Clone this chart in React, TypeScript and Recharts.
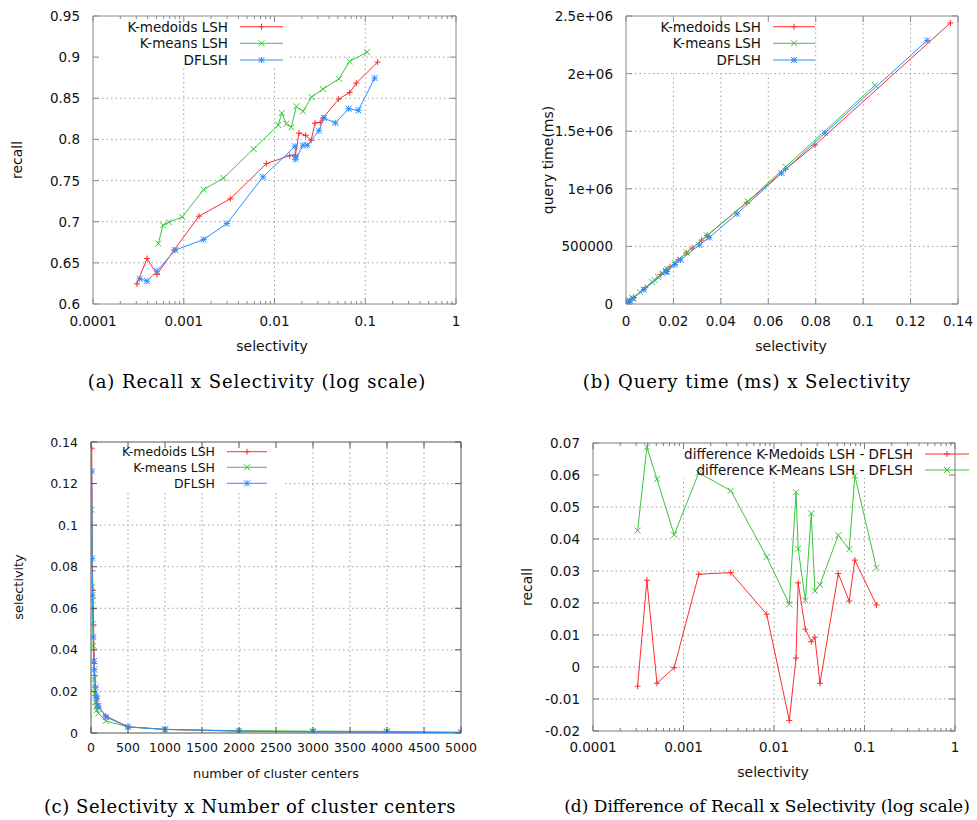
import React from "react";
import {
  ScatterChart,
  Scatter,
  XAxis,
  YAxis,
  ReferenceLine,
  ReferenceArea,
} from "recharts";

// ---- values ----

// (a)/(b): selectivity, recall and query time per method
const medoidsSel = [0.000305, 0.000394, 0.000507, 0.000781, 0.00147, 0.00326, 0.00813, 0.0147, 0.017, 0.0186, 0.022, 0.0254, 0.0279, 0.0319, 0.0342, 0.0509, 0.0673, 0.0797, 0.1368];
const medoidsRecall = [0.6245, 0.6553, 0.6359, 0.6654, 0.7067, 0.7278, 0.7706, 0.7803, 0.7811, 0.8078, 0.805, 0.7989, 0.8199, 0.8207, 0.826, 0.849, 0.857, 0.8685, 0.894];
const medoidsQueryMs = [5300, 6900, 8800, 13600, 25600, 56700, 141000, 256000, 296000, 324000, 383000, 442000, 485000, 555000, 595000, 880000, 1170000, 1380000, 2440000];

const meansSel = [0.000525, 0.000591, 0.000687, 0.000963, 0.001656, 0.00275, 0.00588, 0.01101, 0.012, 0.0135, 0.0153, 0.0174, 0.0206, 0.0256, 0.0342, 0.0513, 0.0673, 0.105];
const meansRecall = [0.6735, 0.6957, 0.6994, 0.7058, 0.739, 0.7532, 0.7884, 0.8175, 0.8321, 0.8191, 0.8147, 0.8402, 0.8341, 0.8515, 0.8612, 0.8737, 0.8948, 0.9061];
const meansQueryMs = [9100, 10300, 12000, 16800, 28900, 48000, 102000, 192000, 209000, 235000, 266000, 303000, 358000, 445000, 595000, 890000, 1190000, 1900000];

const dflshSel = [0.000327, 0.000394, 0.000507, 0.000802, 0.001656, 0.00299, 0.00748, 0.01682, 0.017, 0.0171, 0.0206, 0.023, 0.0309, 0.0351, 0.0468, 0.0656, 0.0839, 0.127];
const dflshRecall = [0.6307, 0.6278, 0.64, 0.6654, 0.6784, 0.6978, 0.7544, 0.7917, 0.779, 0.776, 0.7929, 0.7929, 0.8106, 0.826, 0.82, 0.8373, 0.8353, 0.8745];
const dflshQueryMs = [5400, 6500, 8400, 13300, 27500, 49600, 124000, 279000, 282000, 284000, 342000, 382000, 513000, 577000, 783000, 1136000, 1484000, 2287000];

// (c): selectivity against number of cluster centers
const medoidsCenters = [10, 20, 25, 30, 35, 45, 50, 60, 70, 80, 100, 200, 500, 1000, 2000, 3000, 4000, 5000];
const medoidsCenterSel = [0.137, 0.078, 0.0686, 0.0598, 0.052, 0.0334, 0.0277, 0.0221, 0.0173, 0.0141, 0.0125, 0.0082, 0.003, 0.0017, 0.0009, 0.0006, 0.0005, 0.0003];
const meansCenters = [10, 15, 20, 25, 30, 40, 50, 60, 70, 80, 100, 200, 500, 1000, 2000, 3000, 4000, 5000];
const meansCenterSel = [0.1075, 0.0703, 0.0638, 0.0526, 0.042, 0.0257, 0.019, 0.0149, 0.0125, 0.011, 0.0095, 0.0058, 0.0029, 0.0017, 0.0011, 0.0009, 0.0008, 0.0003];
const dflshCenters = [10, 15, 20, 30, 40, 45, 60, 70, 80, 100, 200, 500, 1000, 2000, 3000, 4000, 5000];
const dflshCenterSel = [0.126, 0.0839, 0.0662, 0.0462, 0.0346, 0.0305, 0.0221, 0.0181, 0.0165, 0.013, 0.0077, 0.0029, 0.0018, 0.0009, 0.0005, 0.0004, 0.0001];

// (d): recall differences
const diffSel = [0.000311, 0.000394, 0.000509, 0.000789, 0.001475, 0.00333, 0.0083, 0.01476, 0.0175, 0.0185, 0.0222, 0.0258, 0.0283, 0.0322, 0.0513, 0.0678, 0.0782, 0.1355];
const diffMedoids = [-0.006, 0.0271, -0.0051, -0.0002, 0.029, 0.0295, 0.0165, -0.0167, 0.0028, 0.0263, 0.0118, 0.0079, 0.0093, -0.0051, 0.0292, 0.0206, 0.0334, 0.0194];
const diffMeans = [0.0426, 0.0687, 0.0587, 0.0413, 0.0607, 0.0551, 0.0344, 0.0196, 0.0546, 0.037, 0.0208, 0.048, 0.0238, 0.0257, 0.0412, 0.0368, 0.0598, 0.031];

// ticks
const logTicks = [0.0001, 0.001, 0.01, 0.1, 1];
const recallTicks = [0.6, 0.65, 0.7, 0.75, 0.8, 0.85, 0.9, 0.95];
const selTicks = [0, 0.02, 0.04, 0.06, 0.08, 0.1, 0.12, 0.14];
const queryTicks = [0, 500000, 1000000, 1500000, 2000000, 2500000];
const queryLabels = ["0", "500000", "1e+06", "1.5e+06", "2e+06", "2.5e+06"];
const centerTicks = [0, 500, 1000, 1500, 2000, 2500, 3000, 3500, 4000, 4500, 5000];
const diffTicks = [-0.02, -0.01, 0, 0.01, 0.02, 0.03, 0.04, 0.05, 0.06, 0.07];

const RED = "#ff2a2a";
const GREEN = "#3cc43c";
const BLUE = "#2b8cff";
const GRID = "#a0a0a0";
const SANS = '"DejaVu Sans", sans-serif';

const pts = (xs: number[], ys: number[]) => xs.map((x, i) => ({ x, y: ys[i] }));

// minor log ticks 2..9 per decade
const logMinor: number[] = [];
[0.0001, 0.001, 0.01, 0.1].forEach((d) => {
  for (let k = 2; k <= 9; k++) logMinor.push(+(d * k).toPrecision(3));
});
const isDecade = (v: number) => Math.abs(Math.log10(v) - Math.round(Math.log10(v))) < 1e-9;

type Kind = "plus" | "cross" | "star";

function Marker({ kind, cx, cy, color }: { kind: Kind; cx: number; cy: number; color: string }) {
  const s = 3;
  let d = "";
  if (kind !== "cross") d += `M${cx - s},${cy}H${cx + s}M${cx},${cy - s}V${cy + s}`;
  if (kind !== "plus") d += `M${cx - s},${cy - s}L${cx + s},${cy + s}M${cx - s},${cy + s}L${cx + s},${cy - s}`;
  return <path d={d} stroke={color} strokeWidth={1} fill="none" />;
}

type Series = { name: string; color: string; marker: Kind; data: { x: number; y: number }[] };
type Seg = [number, number, number, number];

interface PanelCfg {
  box: { left: number; top: number; width: number; height: number };
  plot: { left: number; top: number; width: number; height: number };
  xLog: boolean;
  xDomain: [number, number];
  yDomain: [number, number];
  xTicks: number[];
  xMajor: (v: number) => boolean;
  xFmt: (v: number) => string;
  yTicks: number[];
  yFmt: (v: number) => string;
  fontSize: number;
  xLabelDy: number;
  frame: string;
  grid: Seg[];
  series: Series[];
}

const AXIS_W = 40;
const AXIS_H = 20;

function Panel({ cfg }: { cfg: PanelCfg }) {
  const { box, plot } = cfg;
  const bottom = plot.top + plot.height;
  const right = plot.left + plot.width;
  const margin = {
    top: plot.top,
    left: plot.left - AXIS_W,
    right: box.width - right,
    bottom: box.height - bottom - AXIS_H,
  };

  const xTick = (p: any) => {
    const x = p.x;
    const v = p.payload.value;
    const major = cfg.xMajor(v);
    const len = major ? 6 : 3;
    return (
      <g>
        <line x1={x} x2={x} y1={bottom} y2={bottom - len} stroke={cfg.frame} />
        <line x1={x} x2={x} y1={plot.top} y2={plot.top + len} stroke={cfg.frame} />
        {major && (
          <text x={x} y={bottom + cfg.xLabelDy} textAnchor="middle" dominantBaseline="central"
            fontSize={cfg.fontSize} fontFamily={SANS} fill="#111">
            {cfg.xFmt(v)}
          </text>
        )}
      </g>
    );
  };

  const yTick = (p: any) => {
    const y = p.y;
    const v = p.payload.value;
    return (
      <g>
        <line x1={plot.left} x2={plot.left + 6} y1={y} y2={y} stroke={cfg.frame} />
        <line x1={right - 6} x2={right} y1={y} y2={y} stroke={cfg.frame} />
        <text x={plot.left - 13} y={y} textAnchor="end" dominantBaseline="central"
          fontSize={cfg.fontSize} fontFamily={SANS} fill="#111">
          {cfg.yFmt(v)}
        </text>
      </g>
    );
  };

  return (
    <div style={{ position: "absolute", left: cfg.box.left, top: cfg.box.top }}>
      <ScatterChart width={box.width} height={box.height} margin={margin}>
        <XAxis type="number" dataKey="x" scale={cfg.xLog ? "log" : "linear"} domain={cfg.xDomain}
          ticks={cfg.xTicks} interval={0} tick={xTick} tickLine={false} axisLine={false}
          height={AXIS_H} allowDataOverflow />
        <YAxis type="number" dataKey="y" domain={cfg.yDomain} ticks={cfg.yTicks} interval={0}
          tick={yTick} tickLine={false} axisLine={false} width={AXIS_W} allowDataOverflow />
        {cfg.grid.map(([x1, y1, x2, y2], i) => (
          <ReferenceLine key={i} segment={[{ x: x1, y: y1 }, { x: x2, y: y2 }]}
            stroke={GRID} strokeDasharray="1.5 3" strokeWidth={1} />
        ))}
        <ReferenceArea x1={cfg.xDomain[0]} x2={cfg.xDomain[1]} y1={cfg.yDomain[0]} y2={cfg.yDomain[1]}
          fill="none" stroke={cfg.frame} strokeWidth={1} />
        {cfg.series.map((s) => (
          <Scatter key={s.name} name={s.name} data={s.data} isAnimationActive={false}
            line={{ stroke: s.color, strokeWidth: 1 }} lineJointType="linear"
            shape={(p: any) => <Marker kind={s.marker} cx={p.cx} cy={p.cy} color={s.color} />} />
        ))}
      </ScatterChart>
    </div>
  );
}

const fmt = (v: number) => String(v);
const lin = () => true;

const vSegs = (xs: number[], y1: number, y2: number): Seg[] => xs.map((x) => [x, y1, x, y2]);
const hSegs = (ys: number[], x1: number, x2: number): Seg[] => ys.map((y) => [x1, y, x2, y]);

const panelA: PanelCfg = {
  box: { left: 0, top: 0, width: 488, height: 400 },
  plot: { left: 93, top: 16, width: 363, height: 288 },
  xLog: true,
  xDomain: [0.0001, 1],
  yDomain: [0.6, 0.95],
  xTicks: [...logTicks, ...logMinor],
  xMajor: isDecade,
  xFmt: fmt,
  yTicks: recallTicks,
  yFmt: fmt,
  fontSize: 13.5,
  xLabelDy: 17,
  frame: "#8a8a8a",
  grid: [
    ...vSegs([0.001, 0.01], 0.6, 0.8877),
    ...vSegs([0.1], 0.6, 0.95),
    ...hSegs([0.65, 0.7, 0.75, 0.8, 0.85], 0.0001, 1),
    ...hSegs([0.9], 0.0148, 1),
  ],
  series: [
    { name: "K-medoids LSH", color: RED, marker: "plus", data: pts(medoidsSel, medoidsRecall) },
    { name: "K-means LSH", color: GREEN, marker: "cross", data: pts(meansSel, meansRecall) },
    { name: "DFLSH", color: BLUE, marker: "star", data: pts(dflshSel, dflshRecall) },
  ],
};

const panelB: PanelCfg = {
  box: { left: 488, top: 0, width: 489, height: 400 },
  plot: { left: 138, top: 16, width: 332, height: 288 },
  xLog: false,
  xDomain: [0, 0.14],
  yDomain: [0, 2500000],
  xTicks: selTicks,
  xMajor: lin,
  xFmt: fmt,
  yTicks: queryTicks,
  yFmt: (v) => queryLabels[queryTicks.indexOf(v)] ?? String(v),
  fontSize: 13.5,
  xLabelDy: 17,
  frame: "#8a8a8a",
  grid: [
    ...vSegs([0.02, 0.04, 0.06], 0, 2000000),
    ...vSegs([0.08, 0.1, 0.12], 0, 2500000),
    ...hSegs([500000, 1000000, 1500000, 2000000], 0, 0.14),
  ],
  series: [
    { name: "K-medoids LSH", color: RED, marker: "plus", data: pts(medoidsSel, medoidsQueryMs) },
    { name: "K-means LSH", color: GREEN, marker: "cross", data: pts(meansSel, meansQueryMs) },
    { name: "DFLSH", color: BLUE, marker: "star", data: pts(dflshSel, dflshQueryMs) },
  ],
};

const panelC: PanelCfg = {
  box: { left: 0, top: 410, width: 488, height: 410 },
  plot: { left: 91, top: 32, width: 370, height: 291 },
  xLog: false,
  xDomain: [0, 5000],
  yDomain: [0, 0.14],
  xTicks: centerTicks,
  xMajor: lin,
  xFmt: fmt,
  yTicks: selTicks,
  yFmt: fmt,
  fontSize: 12.5,
  xLabelDy: 14,
  frame: "#555",
  grid: [
    ...vSegs([500, 1000, 1500, 2000, 2500], 0, 0.1157),
    ...vSegs([3000, 3500, 4000, 4500], 0, 0.14),
    ...hSegs([0.02, 0.04, 0.06, 0.08, 0.1], 0, 5000),
    ...hSegs([0.12], 2622, 5000),
  ],
  series: [
    { name: "K-medoids LSH", color: RED, marker: "plus", data: pts(medoidsCenters, medoidsCenterSel) },
    { name: "K-means LSH", color: GREEN, marker: "cross", data: pts(meansCenters, meansCenterSel) },
    { name: "DFLSH", color: BLUE, marker: "star", data: pts(dflshCenters, dflshCenterSel) },
  ],
};

const panelD: PanelCfg = {
  box: { left: 488, top: 410, width: 489, height: 410 },
  plot: { left: 105, top: 33, width: 362, height: 288 },
  xLog: true,
  xDomain: [0.0001, 1],
  yDomain: [-0.02, 0.07],
  xTicks: [...logTicks, ...logMinor],
  xMajor: isDecade,
  xFmt: fmt,
  yTicks: diffTicks,
  yFmt: fmt,
  fontSize: 13.5,
  xLabelDy: 16,
  frame: "#7a7a7a",
  grid: [
    ...vSegs([0.001, 0.01, 0.1], -0.02, 0.059),
    ...hSegs([-0.01, 0, 0.01, 0.02, 0.03, 0.04, 0.05], 0.0001, 1),
  ],
  series: [
    { name: "difference K-Medoids LSH - DFLSH", color: RED, marker: "plus", data: pts(diffSel, diffMedoids) },
    { name: "difference K-Means LSH - DFLSH", color: GREEN, marker: "cross", data: pts(diffSel, diffMeans) },
  ],
};

function Key({ items, textRight, x1, x2, rows, fontSize }: {
  items: Series[]; textRight: number; x1: number; x2: number; rows: number[]; fontSize: number;
}) {
  return (
    <g>
      {items.map((s, i) => (
        <g key={s.name}>
          <text x={textRight} y={rows[i]} textAnchor="end" dominantBaseline="central"
            fontSize={fontSize} fontFamily={SANS} fill="#111">{s.name}</text>
          <line x1={x1} x2={x2} y1={rows[i]} y2={rows[i]} stroke={s.color} strokeWidth={1} />
          <Marker kind={s.marker} cx={(x1 + x2) / 2} cy={rows[i]} color={s.color} />
        </g>
      ))}
    </g>
  );
}

function Title({ x, y, text, rotate, size }: { x: number; y: number; text: string; rotate?: boolean; size: number }) {
  return (
    <text x={x} y={y} textAnchor="middle" dominantBaseline="central" fontSize={size} fontFamily={SANS}
      fill="#111" transform={rotate ? `rotate(-90 ${x} ${y})` : undefined}>{text}</text>
  );
}

function Caption({ x, y, text, size = 18, spacing = 0.95 }: {
  x: number; y: number; text: string; size?: number; spacing?: number;
}) {
  return (
    <text x={x} y={y} textAnchor="middle" dominantBaseline="central" fontSize={size}
      letterSpacing={spacing} fontFamily='"DejaVu Serif", serif' fill="#000">{text}</text>
  );
}

export default function App() {
  return (
    <div style={{ position: "relative", width: 977, height: 820, background: "#fff", overflow: "hidden" }}>
      <style>{"body{margin:0}"}</style>
      <Panel cfg={panelA} />
      <Panel cfg={panelB} />
      <Panel cfg={panelC} />
      <Panel cfg={panelD} />
      <svg width={977} height={820} style={{ position: "absolute", left: 0, top: 0, pointerEvents: "none" }}>
        <Key items={panelA.series} textRight={228} x1={240} x2={283} rows={[26.7, 43.3, 60]} fontSize={13.5} />
        <Key items={panelB.series} textRight={761} x1={773} x2={815} rows={[26.7, 43.3, 60]} fontSize={13.5} />
        <Key items={panelC.series} textRight={215} x1={227} x2={267} rows={[451.7, 467.3, 483.3]} fontSize={12.5} />
        <Key items={panelD.series} textRight={913} x1={925} x2={969} rows={[454, 470]} fontSize={13.5} />

        <Title x={17} y={160} text="recall" rotate size={14} />
        <Title x={272} y={346} text="selectivity" size={14} />
        <Title x={548} y={160} text="query time(ms)" rotate size={14} />
        <Title x={791} y={346} text="selectivity" size={14} />
        <Title x={18} y={587} text="selectivity" rotate size={12.8} />
        <Title x={276} y={773} text="number of cluster centers" size={12.8} />
        <Title x={527} y={587} text="recall" rotate size={14} />
        <Title x={773} y={772} text="selectivity" size={14} />

        <Caption x={257} y={381} text="(a) Recall x Selectivity (log scale)" />
        <Caption x={747} y={381} text="(b) Query time (ms) x Selectivity" />
        <Caption x={250} y={806} text="(c) Selectivity x Number of cluster centers" spacing={0.55} />
        <Caption x={767} y={806} text="(d) Difference of Recall x Selectivity (log scale)" size={17} spacing={0} />
      </svg>
    </div>
  );
}
